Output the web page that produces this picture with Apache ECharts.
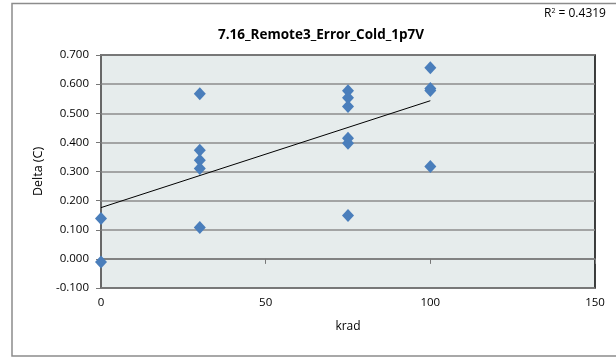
<!DOCTYPE html>
<html>
<head>
<meta charset="utf-8">
<script src="https://cdn.jsdelivr.net/npm/echarts@6/dist/echarts.min.js"></script>
<style>html,body{margin:0;padding:0;background:#fff}#c{width:616px;height:357px}</style>
</head>
<body>
<div id="c"></div>
<script>
var titleText = '7.16_Remote3_Error_Cold_1p7V';
var xName = 'krad';
var yName = 'Delta (C)';
var xValues = [0, 0, 30, 30, 30, 30, 30, 75, 75, 75, 75, 75, 75, 100, 100, 100, 100];
var yValues = [0.139, -0.011, 0.567, 0.373, 0.339, 0.310, 0.108, 0.577, 0.553, 0.523, 0.414, 0.397, 0.149, 0.656, 0.585, 0.578, 0.317];
var trendX = [0, 100];
var trendY = [0.176, 0.543];
var r2Text = '0.4319';

var points = xValues.map(function (x, i) { return [x, yValues[i]]; });
var trend = trendX.map(function (x, i) { return [x, trendY[i]]; });
var font = '"Open Sans", "Liberation Sans", sans-serif';

var chart = echarts.init(document.getElementById('c'), null, {renderer: 'canvas'});
chart.setOption({
  animation: false,
  backgroundColor: '#fff',
  title: {
    text: titleText, left: 316, top: 23, textAlign: 'center',
    textStyle: {fontFamily: font, fontSize: 13.5, fontWeight: 'bold', color: '#000'}
  },
  graphic: [
    {type: 'rect', z: -10, shape: {x: 12, y: 3.5, width: 640, height: 352.5},
     style: {fill: 'none', stroke: '#8c8c8c', lineWidth: 1.5}},
    {type: 'text', left: 544, top: 7, z: 10,
     style: {rich: {n: {fontFamily: font, fontSize: 12, color: '#000'}, s: {fontFamily: font, fontSize: 7, color: '#000', verticalAlign: 'top', padding: [0, 0, 6, 0]}},
             text: '{n|R}{s|2}{n| = ' + r2Text + '}'}}
  ],
  grid: {left: 101, right: 21, top: 55, bottom: 69, show: true, backgroundColor: '#e6ecec', borderColor: '#000', borderWidth: 1.5},
  xAxis: {
    type: 'value', min: 0, max: 150, interval: 50,
    name: xName, nameLocation: 'middle', nameGap: 33,
    nameTextStyle: {fontFamily: font, fontSize: 12, color: '#000'},
    axisLine: {show: true, lineStyle: {color: '#777', width: 1.5}},
    axisTick: {show: true, length: 5, lineStyle: {color: '#777'}},
    axisLabel: {fontFamily: font, fontSize: 11.5, color: '#000', margin: 9},
    splitLine: {show: false}
  },
  yAxis: {
    type: 'value', min: -0.1, max: 0.7, interval: 0.1,
    name: yName, nameLocation: 'middle', nameGap: 52, nameRotate: 90,
    nameTextStyle: {fontFamily: font, fontSize: 12.5, color: '#000'},
    axisLine: {show: true, lineStyle: {color: '#777', width: 1.5}},
    axisTick: {show: true, length: 5, lineStyle: {color: '#777'}},
    axisLabel: {fontFamily: font, fontSize: 11.5, color: '#000', margin: 12,
      formatter: function (v) { return v.toFixed(3); }},
    splitLine: {show: true, lineStyle: {color: '#8c8c8c', width: 1.5}}
  },
  series: [
    {type: 'scatter', data: points, symbol: 'diamond', symbolSize: [12, 13],
     itemStyle: {color: '#4a7ebb', opacity: 1}, z: 3},
    {type: 'line', data: trend, showSymbol: false, symbol: 'none',
     lineStyle: {color: '#000', width: 1}, z: 4}
  ]
});
</script>
</body>
</html>
